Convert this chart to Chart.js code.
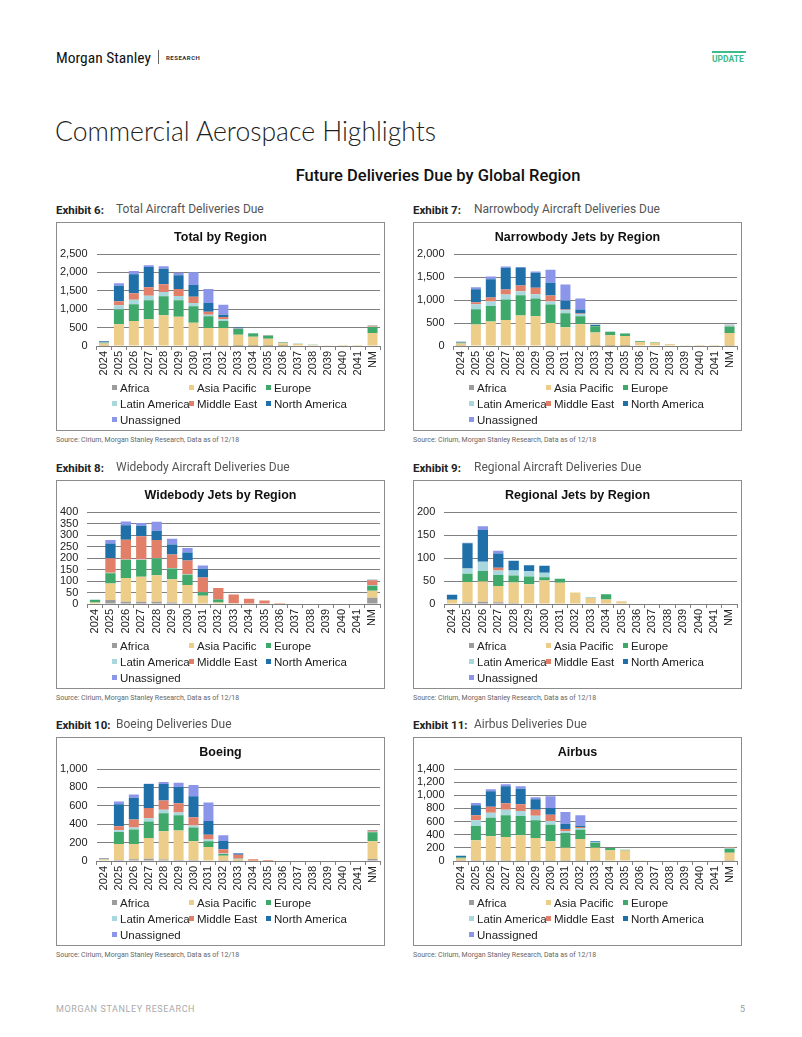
<!DOCTYPE html>
<html>
<head>
<meta charset="utf-8">
<script src="https://cdn.jsdelivr.net/npm/chart.js@4.4.1/dist/chart.umd.min.js"></script>
<style>
  body { margin: 0; background: #fff; font-family: Roboto, "Liberation Sans", sans-serif; }
  #page { position: relative; width: 802px; height: 1037px; overflow: hidden; }
  .abs { position: absolute; white-space: nowrap; }
  .box { position: absolute; width: 327px; height: 207px; border: 1px solid #8c8c8c; }
  .box canvas { position: absolute; left: 0; top: 0; }
  .ctitle { position: absolute; left: 0; width: 100%; top: 7px; text-align: center;
            font: bold 12.5px "Liberation Sans", Arial, sans-serif; color: #111; }
  .leg { position: absolute; font: 11.5px "Liberation Sans", Arial, sans-serif; color: #222; line-height: 14px; }
  .leg i { display: inline-block; width: 5px; height: 5px; margin-right: 3px; vertical-align: 2px; }
  .exh { font-size: 11.5px; color: #222; }
  .exh b { font-weight: 700; }
  .exh span { position: absolute; color: #555; font-size: 12px; }
  .src { font-size: 7px; color: #666; }
</style>
</head>
<body>
<div id="page">
  <div class="abs" style="left:56px;top:49px;font:15.5px 'Liberation Sans Narrow','Roboto Condensed',Roboto,sans-serif;color:#111;">Morgan Stanley</div>
  <div class="abs" style="left:158px;top:50px;width:1px;height:14px;background:#666;"></div>
  <div class="abs" style="left:166px;top:54px;font:bold 6px Roboto,sans-serif;letter-spacing:0.5px;color:#333;">RESEARCH</div>
  <div class="abs" style="left:712px;top:51px;width:34px;height:2px;background:#3dbb8b;"></div>
  <div class="abs" style="left:712px;top:54px;font:bold 8.5px Roboto,sans-serif;color:#3dbb8b;">UPDATE</div>
  <div class="abs" style="left:55px;top:115px;font:300 26.5px Lato,Roboto,sans-serif;color:#222;">Commercial Aerospace Highlights</div>
  <div class="abs" style="left:0;width:876px;top:166px;text-align:center;font:500 16.5px Roboto,sans-serif;color:#111;">Future Deliveries Due by Global Region</div>
  <div class="abs" style="left:56px;top:1004px;font:9px Roboto,sans-serif;letter-spacing:0.6px;color:#aaa;">MORGAN STANLEY RESEARCH</div>
  <div class="abs" style="left:740px;top:1004px;font:9px Roboto,sans-serif;color:#999;">5</div>
</div>
<script>
// categories and regions
const years = ['2024','2025','2026','2027','2028','2029','2030','2031','2032','2033','2034','2035','2036','2037','2038','2039','2040','2041','NM'];
const regions = ['Africa','Asia Pacific','Europe','Latin America','Middle East','North America','Unassigned'];
const regionColors = ['#9c9c9c','#ecce8a','#3fa86b','#a9d7de','#e27f68','#1f6fa9','#8b96ea'];

// Total by Region
const totAfrica  = [5,15,15,15,15,15,10,5,5,3,2,2,1,0,0,0,0,0,15];
const totAsiaPac = [60,575,665,710,819,782,624,484,484,305,250,195,75,55,30,4,2,2,335];
const totEurope  = [25,400,453,516,516,444,444,317,191,155,90,85,20,8,5,1,0,0,165];
const totLatAm   = [5,115,126,127,118,118,91,46,45,5,2,5,2,0,0,0,0,0,10];
const totMidEast = [5,110,172,227,208,190,172,81,63,10,3,3,1,0,0,0,0,0,25];
const totNorthAm = [30,425,517,552,426,372,326,236,64,25,5,5,2,0,0,0,0,0,10];
const totUnassig = [0,65,91,46,63,72,335,380,271,5,0,0,0,0,0,0,0,0,0];

// Narrowbody Jets by Region
const nbAfrica  = [5,10,10,10,10,10,5,5,5,2,1,1,0,0,0,0,0,0,5];
const nbAsiaPac = [50,455,520,557,652,637,497,402,468,290,230,215,85,70,40,3,1,1,280];
const nbEurope  = [15,335,341,443,443,385,399,305,174,135,80,55,20,10,4,0,0,0,140];
const nbLatAm   = [3,106,95,110,87,95,66,66,44,5,2,5,2,0,0,0,0,0,20];
const nbMidEast = [2,44,87,109,124,138,131,14,15,5,0,0,0,0,0,0,0,0,10];
const nbNorthAm = [15,284,400,472,393,327,276,189,87,25,2,2,3,0,0,0,0,0,5];
const nbUnassig = [0,44,58,29,7,29,284,357,240,0,0,0,0,0,0,0,0,0,0];

// Widebody Jets by Region
const wbAfrica  = [2,17,10,10,10,7,3,2,0,0,0,0,0,0,0,0,0,0,27];
const wbAsiaPac = [5,72,103,109,115,101,80,34,6,3,2,2,1,0,0,0,0,0,31];
const wbEurope  = [12,45,79,72,73,46,44,15,14,0,0,0,0,0,0,0,0,0,21];
const wbLatAm   = [0,2,2,2,2,2,2,1,0,0,0,0,0,0,0,0,0,0,2];
const wbMidEast = [0,63,85,102,78,59,60,63,50,38,21,13,2,0,0,0,0,0,22];
const wbNorthAm = [0,64,63,45,41,44,35,38,0,0,0,0,0,0,0,0,0,0,2];
const wbUnassig = [0,15,17,12,39,25,19,14,0,0,0,0,0,0,0,0,0,0,0];

// Regional Jets by Region
const rjAfrica  = [1,3,5,4,2,1,1,0,1,0,1,0,0,0,0,0,0,0,0];
const rjAsiaPac = [8,45,44,35,45,42,50,46,24,13,9,6,0,0,0,0,0,0,0];
const rjEurope  = [0,18,23,24,15,17,7,9,0,0,11,0,0,0,0,0,0,0,0];
const rjLatAm   = [0,11,20,10,11,11,10,0,0,2,0,0,0,0,0,0,0,0,0];
const rjMidEast = [0,0,0,6,0,0,0,0,0,0,0,0,0,0,0,0,0,0,0];
const rjNorthAm = [11,55,69,31,21,13,15,0,0,0,0,0,0,0,0,0,0,0,0];
const rjUnassig = [0,1,8,6,0,0,0,0,0,0,0,0,0,0,0,0,0,0,0];

// Boeing
const boAfrica  = [5,11,18,25,15,11,11,5,3,2,0,0,0,0,0,0,0,0,22];
const boAsiaPac = [10,174,167,226,309,320,204,148,55,16,3,2,0,0,0,0,0,0,193];
const boEurope  = [5,131,157,178,196,167,149,62,18,7,0,0,0,0,0,0,0,0,98];
const boLatAm   = [1,19,22,36,36,29,21,18,5,2,0,0,0,0,0,0,0,0,4];
const boMidEast = [3,43,87,110,102,102,91,51,46,42,15,9,0,0,0,0,0,0,14];
const boNorthAm = [5,240,236,261,178,175,229,152,91,13,0,0,0,0,0,0,0,0,7];
const boUnassig = [0,29,37,4,22,47,120,200,62,5,0,0,0,0,0,0,0,0,0];

// Airbus
const abAfrica  = [3,5,5,5,5,5,5,3,3,3,0,0,0,0,0,0,0,0,5];
const abAsiaPac = [35,309,370,360,386,345,294,200,332,200,162,160,4,0,0,0,0,0,122];
const abEurope  = [20,219,284,330,294,269,254,223,142,76,36,10,1,0,0,0,0,0,61];
const abLatAm   = [0,86,76,86,76,71,56,25,25,5,0,2,0,0,0,0,0,0,15];
const abMidEast = [0,76,92,96,101,91,96,36,15,0,0,0,0,0,0,0,0,0,10];
const abNorthAm = [20,152,233,259,239,157,101,81,21,18,0,0,0,0,0,0,0,0,0];
const abUnassig = [0,36,30,31,35,31,178,178,157,0,0,0,0,0,0,0,0,0,0];

const panels = [
  { x: 56,  y: 222, exhibit: 'Exhibit 6:',  desc: 'Total Aircraft Deliveries Due',      title: 'Total by Region',          max: 2500, step: 500,
    series: [totAfrica, totAsiaPac, totEurope, totLatAm, totMidEast, totNorthAm, totUnassig] },
  { x: 413, y: 222, exhibit: 'Exhibit 7:',  desc: 'Narrowbody Aircraft Deliveries Due', title: 'Narrowbody Jets by Region', max: 2000, step: 500,
    series: [nbAfrica, nbAsiaPac, nbEurope, nbLatAm, nbMidEast, nbNorthAm, nbUnassig] },
  { x: 56,  y: 480, exhibit: 'Exhibit 8:',  desc: 'Widebody Aircraft Deliveries Due',   title: 'Widebody Jets by Region',   max: 400, step: 50,
    series: [wbAfrica, wbAsiaPac, wbEurope, wbLatAm, wbMidEast, wbNorthAm, wbUnassig] },
  { x: 413, y: 480, exhibit: 'Exhibit 9:',  desc: 'Regional Aircraft Deliveries Due',   title: 'Regional Jets by Region',   max: 200, step: 50,
    series: [rjAfrica, rjAsiaPac, rjEurope, rjLatAm, rjMidEast, rjNorthAm, rjUnassig] },
  { x: 56,  y: 737, exhibit: 'Exhibit 10:', desc: 'Boeing Deliveries Due',              title: 'Boeing',                    max: 1000, step: 200,
    series: [boAfrica, boAsiaPac, boEurope, boLatAm, boMidEast, boNorthAm, boUnassig] },
  { x: 413, y: 737, exhibit: 'Exhibit 11:', desc: 'Airbus Deliveries Due',              title: 'Airbus',                    max: 1400, step: 200,
    series: [abAfrica, abAsiaPac, abEurope, abLatAm, abMidEast, abNorthAm, abUnassig] }
];

const page = document.getElementById('page');
const tickFont = { family: '"Liberation Sans", Arial, sans-serif', size: 11 };
const legendCols = [55, 132, 209];
const legendRows = [158, 174, 190];

panels.forEach(function (p) {
  // exhibit heading
  const ex = document.createElement('div');
  ex.className = 'abs exh';
  ex.style.left = p.x + 'px';
  ex.style.top = (p.y - 19) + 'px';
  ex.innerHTML = '<b>' + p.exhibit + '</b><span style="left:' + (p.x < 400 ? 60 : 61) + 'px;top:-1px">' + p.desc + '</span>';
  page.appendChild(ex);

  const src = document.createElement('div');
  src.className = 'abs src';
  src.style.left = p.x + 'px';
  src.style.top = (p.y + 214) + 'px';
  src.textContent = 'Source: Cirium, Morgan Stanley Research, Data as of 12/18';
  page.appendChild(src);

  const box = document.createElement('div');
  box.className = 'box';
  box.style.left = p.x + 'px';
  box.style.top = p.y + 'px';
  const cv = document.createElement('canvas');
  cv.width = 327; cv.height = 207;
  box.appendChild(cv);
  const t = document.createElement('div');
  t.className = 'ctitle';
  t.textContent = p.title;
  box.appendChild(t);
  regions.forEach(function (r, i) {
    const lg = document.createElement('div');
    lg.className = 'leg';
    lg.style.left = legendCols[i % 3] + 'px';
    lg.style.top = legendRows[Math.floor(i / 3)] + 'px';
    lg.innerHTML = '<i style="background:' + regionColors[i] + '"></i>' + r;
    box.appendChild(lg);
  });
  page.appendChild(box);

  new Chart(cv, {
    type: 'bar',
    data: {
      labels: years,
      datasets: p.series.map(function (vals, i) {
        return { label: regions[i], data: vals, backgroundColor: regionColors[i],
                 barPercentage: 0.67, categoryPercentage: 1.0, borderWidth: 0 };
      })
    },
    options: {
      responsive: false,
      animation: false,
      devicePixelRatio: 1,
      layout: { padding: { top: 31, bottom: 44, left: 3, right: 4 } },
      plugins: { legend: { display: false }, title: { display: false }, tooltip: { enabled: false } },
      scales: {
        x: {
          stacked: true,
          grid: { display: true, drawOnChartArea: false, drawTicks: true, tickLength: 4, offset: true, color: '#808080' },
          border: { display: true, color: '#808080' },
          ticks: { autoSkip: false, maxRotation: 90, minRotation: 90, padding: 1, color: '#222', font: tickFont },
          afterFit: function (s) { s.height = 40; s.paddingLeft = 0; s.paddingRight = 0; }
        },
        y: {
          stacked: true,
          min: 0, max: p.max,
          grid: { color: '#808080', drawTicks: false },
          border: { display: false },
          ticks: { stepSize: p.step, autoSkip: false, padding: 9, color: '#222', font: tickFont,
                   callback: function (v) { return v.toLocaleString('en-US'); } },
          // the tick padding gets counted twice in the axis width; drop the extra gap
          afterFit: function (s) { s.width -= 9; }
        }
      }
    }
  });
});
</script>
</body>
</html>
